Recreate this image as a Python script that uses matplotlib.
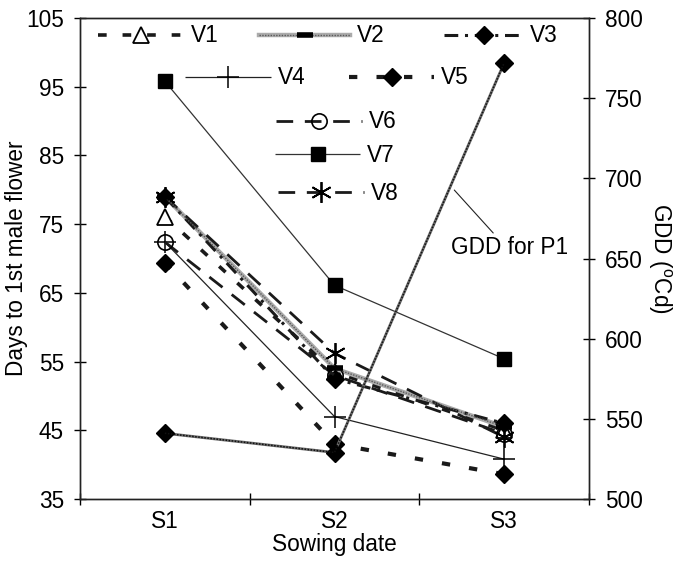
import matplotlib
matplotlib.use("Agg")
import matplotlib.pyplot as plt
from matplotlib.lines import Line2D
from matplotlib.legend import Legend
from matplotlib.legend_handler import HandlerTuple

plt.rcParams['font.family'] = ['Liberation Sans', 'DejaVu Sans']

# ---- data ----
sowing = ["S1", "S2", "S3"]
V1 = [76.1, 53.5, 45.0]
V2 = [79.0, 54.0, 45.5]
V3 = [79.0, 52.5, 46.0]
V4 = [72.4, 47.0, 40.8]
V5 = [69.4, 43.0, 38.6]
V6 = [72.4, 53.0, 44.5]
V7 = [95.8, 66.1, 55.4]
V8 = [79.0, 56.2, 44.0]
GDD = [541, 529, 772]

W, H = 678, 563
fig = plt.figure(figsize=(W / 100, H / 100), dpi=100)
ax = fig.add_axes([80 / W, 1 - 499 / H, (589 - 80) / W, (499 - 18) / H])
ax2 = ax.twinx()

x = list(range(len(sowing)))
FS = 16.3

styles = {
    "V1": dict(color='#1a1a1a', lw=2.6, dashes=(2.4, 4.4), marker='^', ms=12,
               mfc='white', mec='black', mew=1.3),
    "V2": dict(color='#ababab', lw=3.2),
    "V3": dict(color='#1a1a1a', lw=2.2, dashes=(4.5, 2.2, 1.0, 2.2), marker='D',
               ms=9, mfc='black', mec='black'),
    "V4": dict(color='#222222', lw=0.9, marker='+', ms=16, mew=1.1, mec='black'),
    "V5": dict(color='#1a1a1a', lw=3.0, dashes=(2.0, 4.6), marker='D', ms=9,
               mfc='black', mec='black'),
    "V6": dict(color='#1a1a1a', lw=2.0, dashes=(6.0, 4.2), marker='o', ms=11,
               mfc='none', mec='black', mew=1.2),
    "V7": dict(color='#333333', lw=0.9, marker='s', ms=9.5, mfc='black', mec='black'),
    "V8": dict(color='#1a1a1a', lw=2.0, dashes=(6.0, 4.2), marker=(6, 2, 0), ms=15,
               mec='black', mew=1.3),
}
series = {"V1": V1, "V2": V2, "V3": V3, "V4": V4, "V5": V5,
          "V6": V6, "V7": V7, "V8": V8}

handles = {}
for name, vals in series.items():
    st = dict(styles[name])
    if 'dashes' in st:
        st['dash_capstyle'] = 'butt'
    ln, = ax.plot(x, vals, solid_capstyle='butt', zorder=3, **st)
    handles[name] = ln
    if name == "V2":
        ax.plot(x, vals, color='#5a5a5a', lw=1.0, dashes=(1, 1), zorder=3.1)
        ax.plot(x, vals, ls='none', marker='_', ms=11, mec='black', mew=4, zorder=3.2)
        handles[name] = (Line2D([], [], color='#ababab', lw=3.2),
                         Line2D([], [], color='#5a5a5a', lw=1.0, dashes=(1, 1)),
                         Line2D([], [], ls='none', marker='_', ms=11,
                                mec='black', mew=4))

# GDD line (right axis)
ax2.plot(x, GDD, color='#6a6a6a', lw=2.0, marker='D', ms=9,
         mfc='black', mec='black', zorder=4)
ax2.plot(x, GDD, color='#111111', lw=1.1, dashes=(1, 1), zorder=4.1)

ax2.annotate('GDD for P1', xy=(1.706, 692.7), xytext=(1.688, 657),
             textcoords='data', ha='left', va='center', fontsize=FS,
             arrowprops=dict(arrowstyle='-', lw=0.8, color='#222222',
                             relpos=(0.38, 1.0), shrinkA=0, shrinkB=0))

# axes
ax.set_xlim(-0.5, 2.5)
ax.set_ylim(35, 105)
ax2.set_ylim(500, 800)
ax.set_yticks(range(35, 106, 10))
ax2.set_yticks(range(500, 801, 50))
ax.set_xticks(x)
ax.set_xticklabels(sowing)
ax.set_xticks([-0.5, 0.5, 1.5, 2.5], minor=True)
ax.tick_params(axis='x', which='major', length=0, labelsize=FS, pad=8)
ax.tick_params(axis='x', which='minor', length=9, direction='inout', width=1)
ax.tick_params(axis='y', length=9, direction='inout', width=1, labelsize=FS, pad=7)
ax2.tick_params(axis='y', length=9, direction='inout', width=1, labelsize=FS, pad=7)
for a in (ax, ax2):
    for s in a.spines.values():
        s.set_linewidth(1.0)
        s.set_color('#222222')

ax.set_xlabel('Sowing date', fontsize=FS, labelpad=0)
ax.set_ylabel('Days to 1st male flower', fontsize=FS, ha='center', va='center')
ax.yaxis.set_label_coords(-0.124, 0.5)
ax2.set_ylabel(r'GDD ($\mathregular{^o}$Cd)', fontsize=FS, rotation=270,
               ha='center', va='center')
ax2.yaxis.set_label_coords(1.138, 0.5)

# free-placed legend entries
fpx = FS * 100 / 72
entries = [("V1", 98, 86, 36), ("V2", 259, 91, 36), ("V3", 444, 79, 36),
           ("V4", 185, 86, 78), ("V5", 349, 85, 78),
           ("V6", 276, 86, 122), ("V7", 275, 85, 155), ("V8", 278, 86, 193)]
for name, x0, length, y0 in entries:
    h = handles[name]
    leg = Legend(ax2, [h], [name], loc='center left',
                 bbox_to_anchor=(x0 / W, 1 - y0 / H),
                 bbox_transform=fig.transFigure, frameon=False,
                 borderpad=0, borderaxespad=0, handlelength=length / fpx,
                 handletextpad=0.3, numpoints=1, fontsize=FS,
                 handler_map={tuple: HandlerTuple(ndivide=1, pad=0)})
    ax2.add_artist(leg)

fig.savefig('out.png', dpi=100)
